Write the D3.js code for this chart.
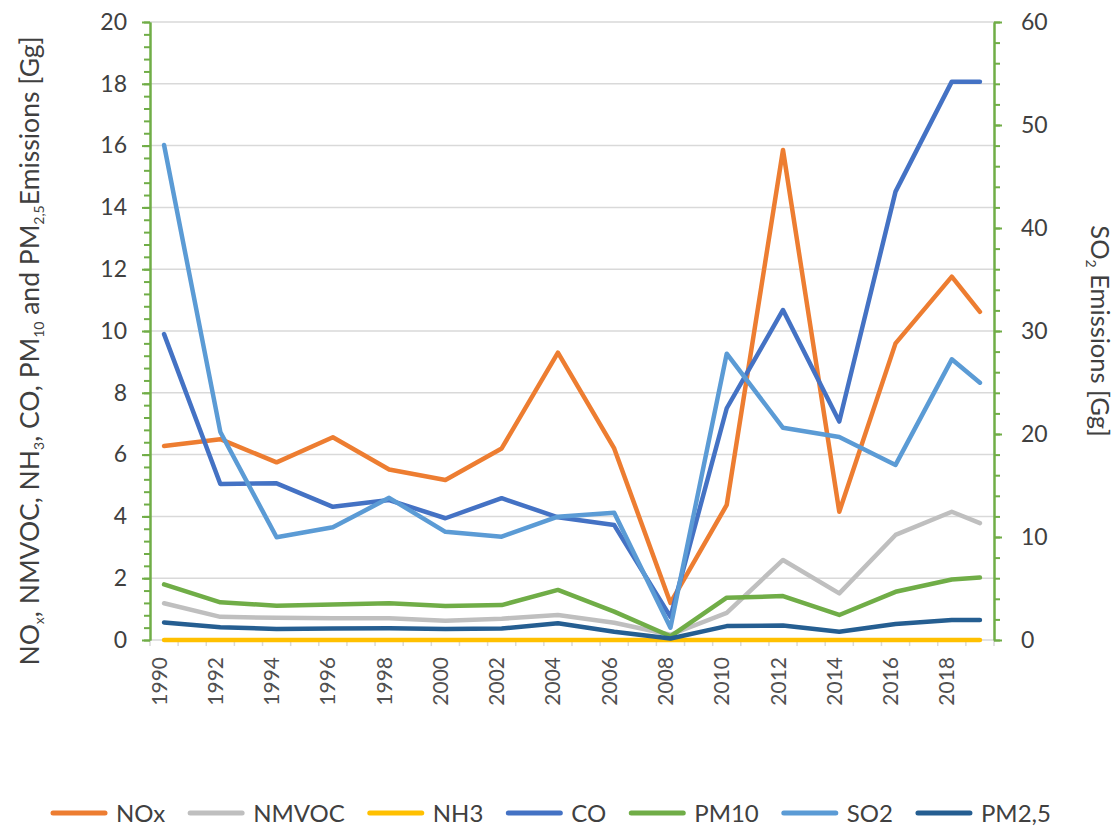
<!DOCTYPE html>
<html>
<head>
<meta charset="utf-8">
<script src="https://cdn.jsdelivr.net/npm/d3@7"></script>
<style>
  body { margin: 0; background: #fff; }
  text { font-family: Lato, "Noto Sans", sans-serif; fill: #404040; }
</style>
</head>
<body>
<svg id="chart" width="1117" height="828"></svg>
<script>
// categories: one per year, only some years carry values
const categories = d3.range(1990, 2020)
const years = [1990, 1992, 1994, 1996, 1998, 2000, 2002, 2004, 2006, 2008, 2010, 2012, 2014, 2016, 2018, 2019]

// left axis series [Gg]
const nox   = [6.28, 6.5, 5.75, 6.56, 5.52, 5.18, 6.2, 9.3, 6.2, 1.2, 4.37, 15.86, 4.15, 9.6, 11.76, 10.62]
const nmvoc = [1.19, 0.75, 0.72, 0.7, 0.7, 0.62, 0.69, 0.81, 0.56, 0.17, 0.88, 2.59, 1.51, 3.4, 4.15, 3.78]
const nh3   = [0, 0, 0, 0, 0, 0, 0, 0, 0, 0, 0, 0, 0, 0, 0, 0]
const co    = [9.9, 5.05, 5.07, 4.31, 4.53, 3.94, 4.59, 3.97, 3.72, 0.75, 7.5, 10.68, 7.07, 14.51, 18.07, 18.07]
const pm10  = [1.8, 1.22, 1.11, 1.15, 1.19, 1.1, 1.13, 1.62, 0.92, 0.12, 1.37, 1.42, 0.81, 1.56, 1.96, 2.02]
const pm25  = [0.57, 0.41, 0.36, 0.37, 0.38, 0.36, 0.37, 0.54, 0.27, 0.05, 0.45, 0.47, 0.27, 0.52, 0.65, 0.65]
// right axis series [Gg]
const so2   = [48.06, 20.2, 9.97, 10.94, 13.8, 10.5, 10.03, 11.97, 12.36, 1.2, 27.8, 20.6, 19.7, 17.0, 27.25, 24.98]

const leftTicks = [0, 2, 4, 6, 8, 10, 12, 14, 16, 18, 20]
const rightTicks = [0, 10, 20, 30, 40, 50, 60]

const series = [
  { name: 'NOx', values: nox, color: '#ED7D31', axis: 'L' },
  { name: 'NMVOC', values: nmvoc, color: '#BFBFBF', axis: 'L' },
  { name: 'NH3', values: nh3, color: '#FFC000', axis: 'L' },
  { name: 'CO', values: co, color: '#4472C4', axis: 'L' },
  { name: 'PM10', values: pm10, color: '#70AD47', axis: 'L' },
  { name: 'SO2', values: so2, color: '#5B9BD5', axis: 'R' },
  { name: 'PM2,5', values: pm25, color: '#255E91', axis: 'L' }
]

const pLeft = 150, pRight = 994, pTop = 22, pBottom = 640
const green = '#70AD47', grid = '#D9D9D9'

const svg = d3.select('#chart')
const x = d3.scaleBand().domain(categories).range([pLeft, pRight]).padding(0)
const yL = d3.scaleLinear().domain([0, 20]).range([pBottom, pTop])
const yR = d3.scaleLinear().domain([0, 60]).range([pBottom, pTop])
const cx = (yr) => x(yr) + x.bandwidth() / 2

// gridlines
svg.append('g').selectAll('line').data(leftTicks.slice(1)).enter().append('line')
  .attr('x1', pLeft).attr('x2', pRight)
  .attr('y1', d => yL(d)).attr('y2', d => yL(d))
  .attr('stroke', grid).attr('stroke-width', 1.5)

// x axis line + boundary ticks
svg.append('line').attr('x1', pLeft).attr('x2', pRight).attr('y1', pBottom).attr('y2', pBottom)
  .attr('stroke', grid).attr('stroke-width', 1.5)
svg.append('g').selectAll('line').data(categories.concat([2020])).enter().append('line')
  .attr('x1', d => d === 2020 ? pRight : x(d)).attr('x2', d => d === 2020 ? pRight : x(d))
  .attr('y1', pBottom).attr('y2', pBottom + 6)
  .attr('stroke', grid).attr('stroke-width', 1.5)
svg.append('g').selectAll('text').data(categories.filter(d => d % 2 === 0)).enter().append('text')
  .attr('transform', d => 'translate(' + (cx(d) + 2.5) + ',' + 657 + ') rotate(-90)')
  .attr('text-anchor', 'end')
  .style('font-size', '21px')
  .style('fill', '#505050')
  .text(d => d)

// left axis
function styleAxis (g) {
  g.select('.domain').attr('stroke', green).attr('stroke-width', 2)
  g.selectAll('.tick line').attr('stroke', green).attr('stroke-width', 2)
  g.selectAll('.tick text').style('font-size', '23px').attr('fill', '#404040')
    .style('font-family', 'Lato, "Noto Sans", sans-serif')
}
const minorL = d3.range(0, 51).map(i => i * 0.4)
svg.append('g').attr('transform', 'translate(' + pLeft + ',0)')
  .call(d3.axisLeft(yL).tickValues(minorL).tickSize(6).tickSizeOuter(0).tickFormat(''))
  .call(styleAxis)
svg.append('g').attr('transform', 'translate(' + pLeft + ',0)')
  .call(d3.axisLeft(yL).tickValues(leftTicks).tickSize(8).tickSizeOuter(0).tickPadding(15))
  .call(styleAxis)

// right axis
const minorR = d3.range(0, 31).map(i => i * 2)
svg.append('g').attr('transform', 'translate(' + pRight + ',0)')
  .call(d3.axisRight(yR).tickValues(minorR).tickSize(6).tickSizeOuter(0).tickFormat(''))
  .call(styleAxis)
svg.append('g').attr('transform', 'translate(' + pRight + ',0)')
  .call(d3.axisRight(yR).tickValues(rightTicks).tickSize(8).tickSizeOuter(0).tickPadding(19))
  .call(styleAxis)

// lines: primary series first, secondary (SO2) on top
const drawOrder = series.filter(s => s.axis === 'L').concat(series.filter(s => s.axis === 'R'))
drawOrder.forEach(s => {
  const y = s.axis === 'L' ? yL : yR
  const line = d3.line().x((d, i) => cx(years[i])).y(d => y(d))
  svg.append('path').datum(s.values)
    .attr('d', line)
    .attr('fill', 'none')
    .attr('stroke', s.color)
    .attr('stroke-width', 4.5)
    .attr('stroke-linejoin', 'round')
    .attr('stroke-linecap', 'round')
})

// axis titles
function withSub (t, parts) {
  // parts: [text, isSub] pairs
  let shifted = false
  parts.forEach(p => {
    const ts = t.append('tspan').text(p[0])
    if (p[1]) { ts.style('font-size', '14px').attr('dy', 5); shifted = true }
    else if (shifted) { ts.attr('dy', -5); shifted = false }
  })
}
const lt = svg.append('text')
  .attr('transform', 'translate(39,351) rotate(-90)')
  .attr('text-anchor', 'middle')
  .style('font-size', '26.5px')
withSub(lt, [['NO'], ['x', 1], [', NMVOC, NH'], ['3', 1], [', CO, PM'], ['10', 1], [' and PM'], ['2,5', 1], ['Emissions [Gg]']])

const rt = svg.append('text')
  .attr('transform', 'translate(1091,331) rotate(90)')
  .attr('text-anchor', 'middle')
  .style('font-size', '25.5px')
withSub(rt, [['SO'], ['2', 1], [' Emissions [Gg]']])

// legend
const legend = svg.append('g').attr('transform', 'translate(51,813)')
let lx = 0
series.forEach(s => {
  legend.append('line')
    .attr('x1', lx + 2).attr('x2', lx + 54).attr('y1', 0).attr('y2', 0)
    .attr('stroke', s.color).attr('stroke-width', 5).attr('stroke-linecap', 'round')
  const t = legend.append('text')
    .attr('x', lx + 65).attr('y', 0).attr('dy', '0.36em')
    .style('font-size', '24px')
    .text(s.name)
  lx += 65 + t.node().getComputedTextLength() + 23
})
</script>
</body>
</html>
